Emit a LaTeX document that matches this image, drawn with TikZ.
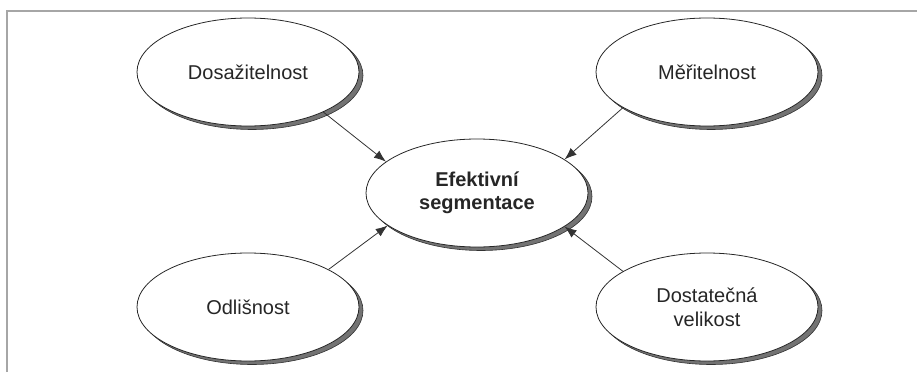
\documentclass[tikz,border=0pt]{standalone}
\usepackage{fontspec}
\setmainfont{Liberation Sans}
\usetikzlibrary{shapes.geometric,shadows,arrows.meta}
\begin{document}
\begin{tikzpicture}[x=1pt,y=-1pt,
  oval/.style={ellipse, draw=black!85, line width=0.8pt, fill=white,
    minimum width=222pt, minimum height=108pt, inner sep=0pt, align=center,
    text=black!85, font=\fontsize{20}{24}\selectfont,
    general shadow={shadow xshift=4pt, shadow yshift=-3.5pt, fill=black!55, draw=black!80, line width=0.6pt}},
  conn/.style={draw=black!80, line width=0.8pt, -{Latex[length=12pt,width=9pt]}},
  frameline/.style={draw=black!35, line width=2pt}
]
\useasboundingbox (0,0) rectangle (917,372);
\draw[frameline] (6.5,372) -- (6.5,10.5) -- (917,10.5);
\node[oval] (dos) at (248,72) {Dosažitelnost};
\node[oval] (mer) at (707,72) {Měřitelnost};
\node[oval, font=\bfseries\fontsize{20}{23.5}\selectfont] (eff) at (477,193) {Efektivní\\segmentace};
\node[oval] (odl) at (248,307) {Odlišnost};
\node[oval] (dst) at (707,307) {Dostatečná\\velikost};
\draw[conn] (dos.-28) -- (eff.161);
\draw[conn] (mer.-157) -- (eff.21);
\draw[conn] (odl.25) -- (eff.-160);
\draw[conn] (dst.157) -- (eff.-21);
\end{tikzpicture}
\end{document}
